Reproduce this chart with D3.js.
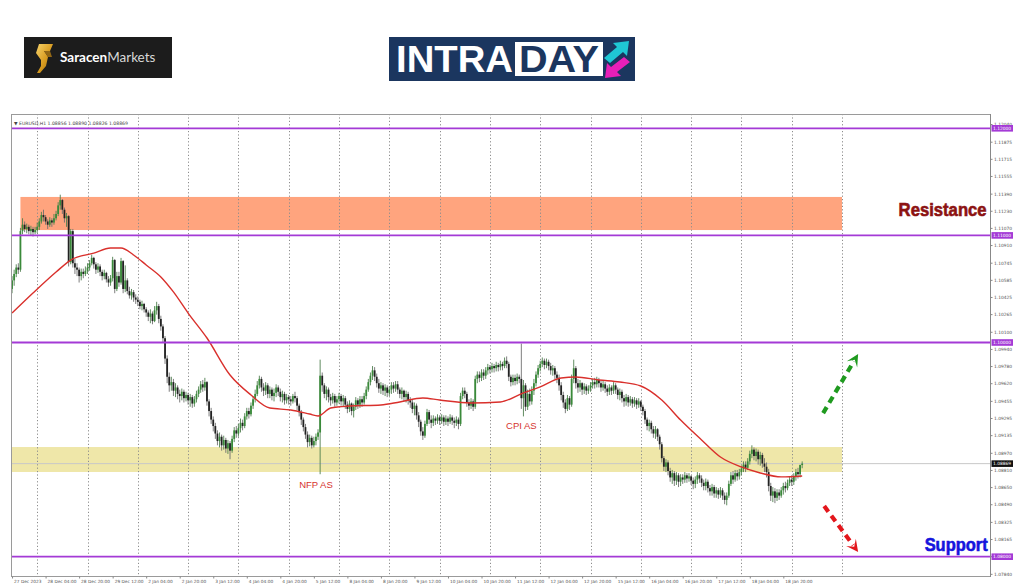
<!DOCTYPE html>
<html><head><meta charset="utf-8">
<script src="https://cdn.jsdelivr.net/npm/d3@7"></script>
<style>body{margin:0;background:#fff;} svg{display:block;}</style>
</head><body>
<svg id="c" width="1024" height="587"></svg>
<script>
// ---------------- DATA ----------------
const symbolHeader = "\u25BC EURUSD,H1  1.08856 1.08890 1.08826 1.08869";
const firstOpen = 1.1050;
const closes = [
1.1058,1.1064,1.1070,1.1068,1.1104,1.1110,1.1106,1.1108,1.1104,1.1106,1.1103,1.1105,
1.1108,1.1113,1.1119,1.1117,1.1113,1.1110,1.1114,1.1112,1.1116,1.1120,1.1128,1.1133,1.1124,1.1116,1.1118,1.1075,1.1104,1.1074,1.1070,1.1068,1.1062,1.1066,1.1064,1.1067,
1.1070,1.1074,1.1079,1.1073,1.1068,1.1071,1.1066,1.1062,1.1065,1.1059,1.1056,1.1060,1.1077,1.1050,1.1062,1.1056,1.1076,1.1050,1.1058,1.1048,1.1044,1.1047,1.1042,1.1040,
1.1038,1.1034,1.1036,1.1031,1.1028,1.1024,1.1027,1.1020,1.1030,1.1034,1.1022,1.1015,1.1004,1.0985,1.0968,1.0960,1.0963,1.0955,1.0958,1.0952,1.0950,1.0954,1.0948,1.0951,
1.0946,1.0949,1.0943,1.0947,1.0952,1.0956,1.0961,1.0958,1.0963,1.0945,1.0936,1.0928,1.0922,1.0915,1.0908,1.0912,1.0904,1.0909,1.0901,1.0906,1.0899,1.0910,1.0918,1.0915,
1.0920,1.0925,1.0922,1.0931,1.0936,1.0933,1.0941,1.0947,1.0952,1.0960,1.0966,1.0958,1.0955,1.0960,1.0952,1.0956,1.0950,1.0953,1.0958,1.0954,1.0949,1.0952,1.0946,1.0949,
1.0947,1.0945,1.0950,1.0948,1.0941,1.0935,1.0928,1.0921,1.0914,1.0907,1.0911,1.0904,1.0908,1.0912,1.0916,1.0969,1.0960,1.0952,1.0956,1.0949,1.0946,1.0950,1.0944,1.0947,
1.0950,1.0945,1.0948,1.0942,1.0938,1.0943,1.0936,1.0940,1.0946,1.0942,1.0947,1.0944,1.0950,1.0956,1.0963,1.0969,1.0974,1.0968,1.0962,1.0957,1.0960,1.0955,1.0958,1.0953,
1.0956,1.0960,1.0957,1.0961,1.0956,1.0952,1.0955,1.0949,1.0952,1.0946,1.0944,1.0938,1.0941,1.0932,1.0926,1.0917,1.0913,1.0924,1.0935,1.0928,1.0925,1.0929,1.0927,1.0930,
1.0927,1.0930,1.0926,1.0929,1.0926,1.0930,1.0927,1.0925,1.0928,1.0924,1.0950,1.0955,1.0952,1.0944,1.0941,1.0945,1.0940,1.0966,1.0970,1.0967,1.0972,1.0969,1.0974,1.0977,
1.0975,1.0978,1.0976,1.0979,1.0977,1.0980,1.0978,1.0983,1.0980,1.0968,1.0963,1.0967,1.0964,1.0968,1.0966,1.0948,1.0960,1.0940,1.0952,1.0945,1.0955,1.0962,1.0970,1.0976,
1.0980,1.0983,1.0979,1.0982,1.0978,1.0974,1.0976,1.0970,1.0967,1.0960,1.0951,1.0944,1.0938,1.0948,1.0942,1.0966,1.0976,1.0962,1.0958,1.0962,1.0956,1.0959,1.0955,1.0957,
1.0960,1.0963,1.0961,1.0965,1.0962,1.0958,1.0961,1.0957,1.0954,1.0958,1.0955,1.0960,1.0956,1.0951,1.0954,1.0948,1.0945,1.0949,1.0944,1.0947,1.0943,1.0946,1.0942,1.0945,
1.0940,1.0936,1.0928,1.0922,1.0925,1.0919,1.0915,1.0919,1.0912,1.0905,1.0892,1.0884,1.0888,1.0880,1.0874,1.0878,1.0871,1.0876,1.0870,1.0874,1.0872,1.0876,1.0873,1.0875,
1.0871,1.0868,1.0872,1.0876,1.0873,1.0869,1.0866,1.0870,1.0864,1.0861,1.0865,1.0859,1.0862,1.0858,1.0862,1.0857,1.0853,1.0857,1.0868,1.0876,1.0872,1.0878,1.0875,1.0879,
1.0882,1.0886,1.0883,1.0889,1.0896,1.0900,1.0894,1.0898,1.0891,1.0895,1.0887,1.0884,1.0879,1.0866,1.0857,1.0861,1.0855,1.0860,1.0857,1.0862,1.0866,1.0864,1.0869,1.0872,
1.0870,1.0875,1.0879,1.0877,1.08856,1.08869];
const highs = [
1.1062,1.1068,1.1073,1.1074,1.1107,1.1116,1.1113,1.1111,1.1110,1.1109,1.1108,1.1108,
1.1112,1.1116,1.1122,1.1124,1.1119,1.1115,1.1117,1.1116,1.1120,1.1123,1.1131,1.1138,1.1134,1.1126,1.1121,1.1119,1.1106,1.1106,1.1078,1.1074,1.1070,1.1069,1.1069,1.1071,
1.1074,1.1077,1.1082,1.1080,1.1075,1.1074,1.1073,1.1068,1.1068,1.1066,1.1062,1.1063,1.1080,1.1078,1.1066,1.1066,1.1079,1.1077,1.1072,1.1060,1.1052,1.1050,1.1049,1.1045,
1.1043,1.1040,1.1039,1.1037,1.1033,1.1030,1.1031,1.1029,1.1034,1.1038,1.1036,1.1025,1.1017,1.1006,1.0988,1.0972,1.0968,1.0966,1.0962,1.0960,1.0956,1.0957,1.0956,1.0954,
1.0953,1.0952,1.0951,1.0950,1.0955,1.0959,1.0964,1.0965,1.0967,1.0964,1.0947,1.0939,1.0931,1.0925,1.0918,1.0916,1.0914,1.0913,1.0911,1.0909,1.0908,1.0913,1.0921,1.0922,
1.0924,1.0929,1.0928,1.0934,1.0939,1.0939,1.0944,1.0950,1.0956,1.0964,1.0969,1.0968,1.0962,1.0963,1.0962,1.0959,1.0958,1.0957,1.0961,1.0960,1.0957,1.0955,1.0954,1.0952,
1.0951,1.0950,1.0952,1.0954,1.0950,1.0943,1.0937,1.0930,1.0924,1.0917,1.0914,1.0913,1.0912,1.0915,1.0919,1.0984,1.0972,1.0962,1.0959,1.0958,1.0952,1.0953,1.0952,1.0950,
1.0953,1.0952,1.0951,1.0950,1.0945,1.0946,1.0944,1.0943,1.0949,1.0948,1.0950,1.0950,1.0953,1.0959,1.0966,1.0972,1.0978,1.0977,1.0971,1.0966,1.0963,1.0962,1.0961,1.0960,
1.0959,1.0963,1.0963,1.0964,1.0964,1.0958,1.0958,1.0956,1.0955,1.0954,1.0949,1.0947,1.0944,1.0943,1.0935,1.0928,1.0921,1.0927,1.0938,1.0937,1.0932,1.0932,1.0931,1.0933,
1.0932,1.0933,1.0932,1.0932,1.0931,1.0933,1.0932,1.0930,1.0931,1.0930,1.0953,1.0958,1.0958,1.0954,1.0947,1.0948,1.0947,1.0969,1.0973,1.0973,1.0975,1.0975,1.0977,1.0980,
1.0979,1.0981,1.0980,1.0982,1.0981,1.0983,1.0982,1.0986,1.0987,1.0982,1.0970,1.0970,1.0970,1.0971,1.0970,1.0999,1.0965,1.0962,1.0956,1.0957,1.0959,1.0966,1.0973,1.0979,
1.0983,1.0986,1.0985,1.0985,1.0984,1.0981,1.0979,1.0978,1.0973,1.0970,1.0963,1.0954,1.0947,1.0951,1.0950,1.0970,1.0984,1.0978,1.0966,1.0965,1.0963,1.0962,1.0961,1.0960,
1.0963,1.0966,1.0967,1.0968,1.0967,1.0964,1.0964,1.0963,1.0960,1.0961,1.0960,1.0963,1.0962,1.0958,1.0957,1.0956,1.0951,1.0952,1.0951,1.0950,1.0949,1.0949,1.0948,1.0948,
1.0946,1.0942,1.0938,1.0930,1.0928,1.0927,1.0922,1.0922,1.0920,1.0914,1.0907,1.0894,1.0891,1.0890,1.0883,1.0881,1.0880,1.0879,1.0878,1.0877,1.0877,1.0879,1.0878,1.0878,
1.0876,1.0874,1.0875,1.0879,1.0878,1.0876,1.0872,1.0873,1.0872,1.0867,1.0868,1.0867,1.0865,1.0864,1.0865,1.0864,1.0860,1.0860,1.0871,1.0879,1.0880,1.0881,1.0881,1.0882,
1.0885,1.0889,1.0889,1.0892,1.0899,1.0904,1.0902,1.0901,1.0900,1.0898,1.0897,1.0892,1.0888,1.0882,1.0869,1.0865,1.0864,1.0863,1.0863,1.0865,1.0869,1.0870,1.0872,1.0875,
1.0876,1.0878,1.0882,1.0883,1.0886,1.08890];
const lows = [
1.1046,1.1053,1.1061,1.1064,1.1066,1.1101,1.1103,1.1102,1.1101,1.1100,1.1099,1.1101,
1.1102,1.1105,1.1111,1.1113,1.1110,1.1106,1.1108,1.1108,1.1110,1.1114,1.1118,1.1124,1.1120,1.1112,1.1108,1.1071,1.1073,1.1070,1.1064,1.1062,1.1056,1.1058,1.1060,1.1062,
1.1064,1.1067,1.1072,1.1069,1.1064,1.1065,1.1062,1.1058,1.1059,1.1056,1.1052,1.1053,1.1057,1.1046,1.1048,1.1052,1.1054,1.1046,1.1047,1.1045,1.1041,1.1040,1.1038,1.1036,
1.1034,1.1031,1.1030,1.1028,1.1024,1.1020,1.1018,1.1017,1.1019,1.1026,1.1018,1.1011,1.1000,1.0980,1.0962,1.0954,1.0955,1.0950,1.0949,1.0947,1.0944,1.0946,1.0944,1.0945,
1.0942,1.0940,1.0939,1.0940,1.0944,1.0949,1.0953,1.0954,1.0955,1.0941,1.0931,1.0924,1.0917,1.0910,1.0904,1.0902,1.0899,1.0900,1.0897,1.0896,1.0891,1.0897,1.0907,1.0911,
1.0912,1.0916,1.0918,1.0920,1.0928,1.0929,1.0931,1.0938,1.0944,1.0950,1.0957,1.0954,1.0950,1.0951,1.0948,1.0948,1.0946,1.0945,1.0949,1.0950,1.0945,1.0944,1.0942,1.0943,
1.0942,1.0941,1.0943,1.0944,1.0937,1.0931,1.0923,1.0917,1.0910,1.0902,1.0903,1.0901,1.0902,1.0904,1.0909,1.0877,1.0954,1.0948,1.0946,1.0944,1.0941,1.0943,1.0940,1.0941,
1.0943,1.0941,1.0940,1.0938,1.0934,1.0935,1.0932,1.0930,1.0937,1.0938,1.0939,1.0940,1.0942,1.0947,1.0954,1.0960,1.0965,1.0964,1.0958,1.0953,1.0952,1.0951,1.0950,1.0949,
1.0950,1.0952,1.0953,1.0954,1.0952,1.0948,1.0947,1.0945,1.0944,1.0942,1.0939,1.0934,1.0932,1.0928,1.0921,1.0913,1.0909,1.0911,1.0922,1.0924,1.0920,1.0922,1.0923,1.0924,
1.0923,1.0924,1.0922,1.0923,1.0922,1.0924,1.0923,1.0920,1.0922,1.0919,1.0922,1.0947,1.0948,1.0940,1.0937,1.0938,1.0936,1.0938,1.0962,1.0963,1.0964,1.0965,1.0966,1.0970,
1.0971,1.0972,1.0972,1.0973,1.0973,1.0974,1.0974,1.0976,1.0976,1.0964,1.0959,1.0960,1.0960,1.0961,1.0962,1.0938,1.0931,1.0936,1.0937,1.0941,1.0942,1.0951,1.0959,1.0967,
1.0973,1.0977,1.0975,1.0976,1.0974,1.0970,1.0969,1.0966,1.0962,1.0955,1.0946,1.0939,1.0934,1.0936,1.0937,1.0940,1.0962,1.0957,1.0953,1.0954,1.0951,1.0952,1.0951,1.0952,
1.0954,1.0957,1.0957,1.0958,1.0958,1.0954,1.0955,1.0953,1.0950,1.0951,1.0951,1.0952,1.0952,1.0947,1.0946,1.0944,1.0940,1.0941,1.0940,1.0941,1.0939,1.0940,1.0938,1.0939,
1.0936,1.0932,1.0924,1.0918,1.0917,1.0915,1.0911,1.0910,1.0908,1.0900,1.0888,1.0880,1.0879,1.0876,1.0870,1.0868,1.0866,1.0867,1.0865,1.0866,1.0868,1.0869,1.0869,1.0870,
1.0867,1.0863,1.0864,1.0868,1.0869,1.0865,1.0862,1.0862,1.0860,1.0857,1.0857,1.0855,1.0855,1.0854,1.0855,1.0853,1.0849,1.0848,1.0855,1.0866,1.0868,1.0870,1.0871,1.0872,
1.0876,1.0879,1.0879,1.0881,1.0886,1.0892,1.0890,1.0889,1.0886,1.0885,1.0883,1.0879,1.0874,1.0861,1.0852,1.0851,1.0850,1.0852,1.0853,1.0855,1.0858,1.0860,1.0862,1.0866,
1.0866,1.0867,1.0871,1.0873,1.0874,1.08826];

// moving average (red line): bar index -> value
const maBars   = [0,10,21,28,39,47,52,58,64,71,77,84,93,104,114,123,133,142,146,152,161,176,185,196,204,219,233,244,252,262,269,280,290,300,310,319,329,338,348,357,367,377];
const maValues = [1.10275,1.10462,1.10658,1.10770,1.10835,1.10882,1.10882,1.10817,1.10724,1.10612,1.10472,1.10275,1.10042,1.09696,1.09510,1.09388,1.09370,1.09332,1.09314,1.09388,1.09407,1.09417,1.09445,1.09482,1.09463,1.09435,1.09445,1.09529,1.09585,1.09669,1.09678,1.09650,1.09631,1.09594,1.09463,1.09276,1.09090,1.08931,1.08838,1.08782,1.08745,1.08754];

const xTickLabels = ["27 Dec 2023","28 Dec 04:00","28 Dec 20:00","29 Dec 12:00","2 Jan 04:00","2 Jan 20:00","3 Jan 12:00","4 Jan 04:00","4 Jan 20:00","5 Jan 12:00","8 Jan 04:00","8 Jan 20:00","9 Jan 12:00","10 Jan 04:00","10 Jan 20:00","11 Jan 12:00","12 Jan 04:00","12 Jan 20:00","15 Jan 12:00","16 Jan 04:00","16 Jan 20:00","17 Jan 12:00","18 Jan 04:00","18 Jan 20:00"];
const barsPerLabel = 16;
const dayStartBars = [12,36,60,84,108,132,156,180,204,228,252,276,300,324,348,372,396];
const yTickValues = [1.12040,1.11875,1.11715,1.11555,1.11390,1.11230,1.11070,1.10910,1.10745,1.10585,1.10425,1.10265,1.10100,1.09940,1.09780,1.09620,1.09455,1.09295,1.09135,1.08970,1.08810,1.08650,1.08490,1.08325,1.08165,1.08005,1.07840];
const levelLines = [1.12, 1.11, 1.10, 1.08];
const lastPrice = 1.08869;
const resistanceZone = {bars:[4, 396], prices:[1.11050, 1.11359]};
const supportZone = {bars:[-2, 396], prices:[1.08791, 1.09024]};
const annotations = [
  {text:"NFP AS", bar:145, price:1.08641, color:"#d6332e"},
  {text:"CPI AS", bar:243, price:1.09192, color:"#d6332e"}
];
const zoneLabels = [
  {text:"Resistance", bar:465, price:1.11181, color:"#8c1212", len:88},
  {text:"Support", bar:465.5, price:1.08053, color:"#1515dd", len:63}
];
const arrows = [
  {from:[387, 1.09341], to:[403.7, 1.09892], color:"#1f9a1f"},
  {from:[387.5, 1.08473], to:[403.7, 1.08044], color:"#e3161c"}
];

// ---------------- DRAW ----------------
const svg = d3.select("#c");
const frame = {l:11, r:990, t:114, b:576};
const x = d3.scaleLinear().domain([12, 396]).range([37.2, 842]);
const y = d3.scaleLinear().domain([1.08, 1.12]).range([556.7, 128.3]);

// ---- logos ----
const defs = svg.append("defs");
const gold = defs.append("linearGradient").attr("id","gold").attr("x1","0").attr("y1","0").attr("x2","1").attr("y2","1");
gold.append("stop").attr("offset","0").attr("stop-color","#f7d36a");
gold.append("stop").attr("offset","0.55").attr("stop-color","#d79a1e");
gold.append("stop").attr("offset","1").attr("stop-color","#9a6a10");
const lg = svg.append("g");
lg.append("rect").attr("x",24).attr("y",37).attr("width",148).attr("height",41).attr("fill","#1c1c1c");
lg.append("path").attr("fill","url(#gold)")
  .attr("d","M39,44 L53,44 L50,51 L44,51 L48,57 L46,66 L40,73 L37,73 L41,66 L41,60 L36,53 Z");
lg.append("path").attr("fill","#b07a14").attr("opacity",0.8)
  .attr("d","M44,51 L50,51 L52,57 L48,57 Z");
const st = lg.append("text").attr("x",60).attr("y",62).attr("font-family","Lato, 'Open Sans', sans-serif").attr("font-size",13.5);
st.append("tspan").attr("font-weight",700).attr("fill","#ffffff").text("Saracen");
st.append("tspan").attr("font-weight",400).attr("fill","#d8d8d8").text("Markets");

const ig = svg.append("g");
ig.append("rect").attr("x",389).attr("y",37).attr("width",246).attr("height",44).attr("fill","#1b365f");
ig.append("text").attr("x",396).attr("y",72).attr("font-family","'Liberation Sans', Arial, sans-serif").attr("font-weight",700)
  .attr("font-size",36).attr("fill","#fff").attr("textLength",117).attr("lengthAdjust","spacingAndGlyphs").text("INTRA");
ig.append("rect").attr("x",515).attr("y",42).attr("width",88).attr("height",34).attr("fill","#fff");
ig.append("text").attr("x",519).attr("y",72).attr("font-family","'Liberation Sans', Arial, sans-serif").attr("font-weight",700)
  .attr("font-size",36).attr("fill","#1b365f").attr("textLength",80).attr("lengthAdjust","spacingAndGlyphs").text("DAY");
ig.append("path").attr("fill","#1fc7d4").attr("d","M604,58 L617,47 L613,43 L629,41 L627,56 L623,52 L610,63 Z");
ig.append("path").attr("fill","#e81fb8").attr("d","M630,62 L617,72 L621,76 L605,78 L607,63 L611,67 L624,57 Z");

// ---- chart frame ----
const chart = svg.append("g");
defs.append("clipPath").attr("id","clip").append("rect")
  .attr("x",frame.l).attr("y",frame.t).attr("width",frame.r-frame.l).attr("height",frame.b-frame.t);
const plot = chart.append("g").attr("clip-path","url(#clip)");

// zones
[{z:resistanceZone, c:"#ffa47e"},{z:supportZone, c:"#efe7a9"}].forEach(o=>{
  plot.append("rect").attr("x",x(o.z.bars[0])).attr("width",x(o.z.bars[1])-x(o.z.bars[0]))
    .attr("y",y(o.z.prices[1])).attr("height",y(o.z.prices[0])-y(o.z.prices[1])).attr("fill",o.c);
});

// vertical dotted gridlines
plot.selectAll("line.grid").data(dayStartBars).enter().append("line")
  .attr("x1",d=>Math.round(x(d))+0.5).attr("x2",d=>Math.round(x(d))+0.5)
  .attr("y1",frame.t).attr("y2",frame.b)
  .attr("stroke","#8c8c8c").attr("stroke-width",1).attr("stroke-dasharray","1.2,2.2");

// last price line
plot.append("line").attr("x1",frame.l).attr("x2",frame.r).attr("y1",y(lastPrice)).attr("y2",y(lastPrice))
  .attr("stroke","#c9c9c9").attr("stroke-width",1);

// candles
const candles = closes.map((c,i)=>({i, o: i===0?firstOpen:closes[i-1], c, h:highs[i], l:lows[i]}));
const cg = plot.append("g");
cg.selectAll("line.wick").data(candles).enter().append("line")
  .attr("x1",d=>x(d.i)).attr("x2",d=>x(d.i)).attr("y1",d=>y(d.h)).attr("y2",d=>y(d.l))
  .attr("stroke",d=>d.c>=d.o?"#4f7f4f":"#6f6f6f").attr("stroke-width",0.9);
cg.selectAll("rect.body").data(candles).enter().append("rect")
  .attr("x",d=>x(d.i)-0.9).attr("width",1.8)
  .attr("y",d=>y(Math.max(d.o,d.c))).attr("height",d=>Math.max(0.8, Math.abs(y(d.o)-y(d.c))))
  .attr("fill",d=>d.c>=d.o?"#3a8a3a":"#222");

// moving average
const maData = maBars.map((b,k)=>[b, maValues[k]]);
plot.append("path").datum(maData)
  .attr("d", d3.line().x(d=>x(d[0])).y(d=>y(d[1])).curve(d3.curveMonotoneX))
  .attr("fill","none").attr("stroke","#d9302c").attr("stroke-width",1.4);

// level lines
plot.selectAll("line.level").data(levelLines).enter().append("line")
  .attr("x1",frame.l).attr("x2",frame.r).attr("y1",d=>y(d)).attr("y2",d=>y(d))
  .attr("stroke","#a43ad6").attr("stroke-width",1.8);

// frame border
chart.append("rect").attr("x",frame.l+0.5).attr("y",frame.t+0.5).attr("width",frame.r-frame.l).attr("height",frame.b-frame.t)
  .attr("fill","none").attr("stroke","#9a9a9a").attr("stroke-width",1);

// header
chart.append("text").attr("x",14).attr("y",124.5).attr("font-family","'DejaVu Sans', sans-serif")
  .attr("font-size",4.6).attr("fill","#444").text(symbolHeader);

// y axis
const yAxis = d3.axisRight(y).tickValues(yTickValues).tickFormat(d3.format(".5f")).tickSize(2).tickPadding(1.5);
const ya = chart.append("g").attr("transform",`translate(${frame.r+0.5},0)`).call(yAxis);
ya.select(".domain").attr("stroke","#888").attr("d",`M0,${frame.t}V${frame.b+1}`);
ya.selectAll(".tick line").attr("stroke","#888");
ya.selectAll(".tick text").attr("font-family","'DejaVu Sans', sans-serif").attr("font-size",4.4).attr("fill","#555");
ya.selectAll(".tick").filter(d=>d>1.1213).remove();

// level labels on axis
const lvl = chart.append("g");
levelLines.forEach(v=>{
  lvl.append("rect").attr("x",frame.r+1.5).attr("y",y(v)-3.3).attr("width",21.5).attr("height",6.6).attr("fill","#a43ad6");
  lvl.append("text").attr("x",frame.r+3).attr("y",y(v)+1.6).attr("font-family","'DejaVu Sans', sans-serif")
    .attr("font-size",4.4).attr("fill","#fff").text(d3.format(".5f")(v));
});
lvl.append("rect").attr("x",frame.r+1.5).attr("y",y(lastPrice)-3.3).attr("width",21.5).attr("height",6.6).attr("fill","#111");
lvl.append("text").attr("x",frame.r+3).attr("y",y(lastPrice)+1.6).attr("font-family","'DejaVu Sans', sans-serif")
  .attr("font-size",4.4).attr("fill","#fff").text(d3.format(".5f")(lastPrice));

// x axis
const xAxis = d3.axisBottom(x).tickValues(xTickLabels.map((_,k)=>k*barsPerLabel))
  .tickFormat((d,k)=>xTickLabels[k]).tickSize(2).tickPadding(1);
const xa = chart.append("g").attr("transform",`translate(0,${frame.b+0.5})`).call(xAxis);
xa.select(".domain").remove();
xa.selectAll(".tick line").attr("stroke","#888");
xa.selectAll(".tick text").attr("text-anchor","start").attr("dx",1.5).attr("font-family","'DejaVu Sans', sans-serif")
  .attr("font-size",4.3).attr("fill","#555");

// annotations
annotations.forEach(a=>{
  chart.append("text").attr("x",x(a.bar)).attr("y",y(a.price)).attr("text-anchor","middle")
    .attr("font-family","'Liberation Sans', Arial, sans-serif").attr("font-size",9.5).attr("fill",a.color).text(a.text);
});
zoneLabels.forEach(a=>{
  chart.append("text").attr("x",x(a.bar)).attr("y",y(a.price)).attr("text-anchor","end")
    .attr("font-family","'Liberation Sans', Arial, sans-serif").attr("font-weight",700).attr("font-size",18)
    .attr("fill",a.color).attr("stroke",a.color).attr("stroke-width",0.6)
    .attr("textLength",a.len).attr("lengthAdjust","spacingAndGlyphs").text(a.text);
});

// dashed arrows
arrows.forEach(a=>{
  const x0=x(a.from[0]), y0=y(a.from[1]), x1=x(a.to[0]), y1=y(a.to[1]);
  const dx=x1-x0, dy=y1-y0, L=Math.hypot(dx,dy), ux=dx/L, uy=dy/L, nx=-uy, ny=ux;
  const hl=12, hw=6;
  chart.append("line").attr("x1",x0).attr("y1",y0).attr("x2",x1-ux*hl*0.7).attr("y2",y1-uy*hl*0.7)
    .attr("stroke",a.color).attr("stroke-width",4.2).attr("stroke-dasharray","7,5");
  const pts=[[x1,y1],[x1-ux*hl+nx*hw,y1-uy*hl+ny*hw],[x1-ux*hl*0.55,y1-uy*hl*0.55],[x1-ux*hl-nx*hw,y1-uy*hl-ny*hw]];
  chart.append("polygon").attr("points",pts.map(p=>p.join(",")).join(" ")).attr("fill",a.color);
});
</script>
</body></html>
